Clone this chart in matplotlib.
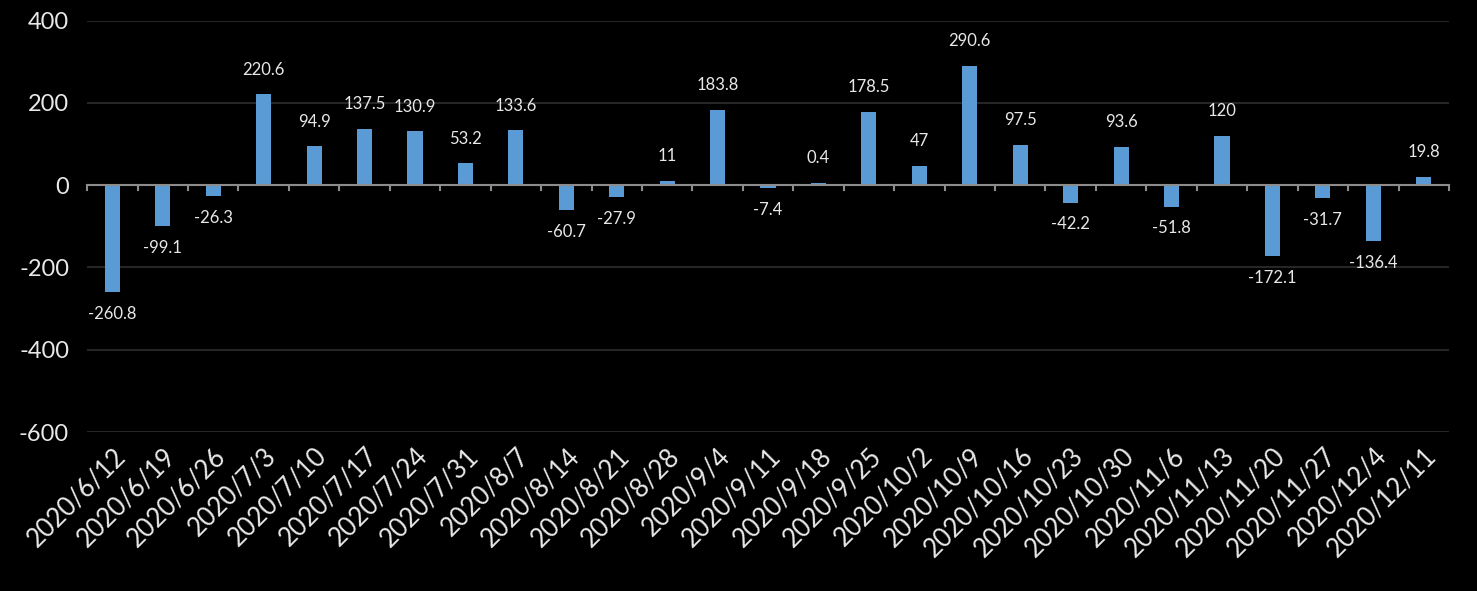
import numpy as np
import matplotlib.pyplot as plt

plt.rcParams['font.family'] = ['Lato', 'DejaVu Sans']

dates = ['2020/6/12', '2020/6/19', '2020/6/26', '2020/7/3', '2020/7/10', '2020/7/17',
         '2020/7/24', '2020/7/31', '2020/8/7', '2020/8/14', '2020/8/21', '2020/8/28',
         '2020/9/4', '2020/9/11', '2020/9/18', '2020/9/25', '2020/10/2', '2020/10/9',
         '2020/10/16', '2020/10/23', '2020/10/30', '2020/11/6', '2020/11/13',
         '2020/11/20', '2020/11/27', '2020/12/4', '2020/12/11']
values = [-260.8, -99.1, -26.3, 220.6, 94.9, 137.5, 130.9, 53.2, 133.6, -60.7, -27.9, 11,
          183.8, -7.4, 0.4, 178.5, 47, 290.6, 97.5, -42.2, 93.6, -51.8, 120, -172.1,
          -31.7, -136.4, 19.8]
yticks = [-600, -400, -200, 0, 200, 400]

fig = plt.figure(figsize=(14.77, 5.91), dpi=100, facecolor='black')
ax = fig.add_axes([0.059, 0.269, 0.922, 0.696], facecolor='black')

x = np.arange(len(dates))
bars = ax.bar(x, values, width=0.3, color='#5b9bd5', zorder=3)
# tiny values still get a visible sliver, like the original
for b, v in zip(bars, values):
    if abs(v) < 5:
        b.set_height(5 if v >= 0 else -5)

ax.set_xlim(-0.5, len(dates) - 0.5)
ax.set_ylim(-600, 400)
ax.set_yticks(yticks)
ax.set_yticklabels([str(v) for v in yticks], color='#e8e8e8', fontsize=17)
ax.yaxis.grid(True, color='#262626', linewidth=1.5, zorder=0)
ax.tick_params(axis='y', length=0, pad=13)

for s in ax.spines.values():
    s.set_visible(False)

# zero axis line with boundary ticks
ax.axhline(0, color='#8c8c8c', linewidth=1.5, zorder=4)
for b in np.arange(-0.5, len(dates), 1.0):
    ax.plot([b, b], [0, -12], color='#8c8c8c', linewidth=1.5, zorder=4, clip_on=False)

ax.set_xticks(x)
ax.set_xticklabels(dates, rotation=45, ha='right', rotation_mode='anchor',
                   color='#e8e8e8', fontsize=18.5)
ax.tick_params(axis='x', length=0, pad=8)

for xi, v in zip(x, values):
    label = ('%g' % v)
    if v >= 0:
        ax.annotate(label, (xi, max(v, 5)), xytext=(0, 12), textcoords='offset points',
                    ha='center', va='bottom', color='#e8e8e8', fontsize=12)
    else:
        ax.annotate(label, (xi, v), xytext=(0, -10), textcoords='offset points',
                    ha='center', va='top', color='#e8e8e8', fontsize=12)

fig.savefig('out.png', dpi=100, facecolor='black')
